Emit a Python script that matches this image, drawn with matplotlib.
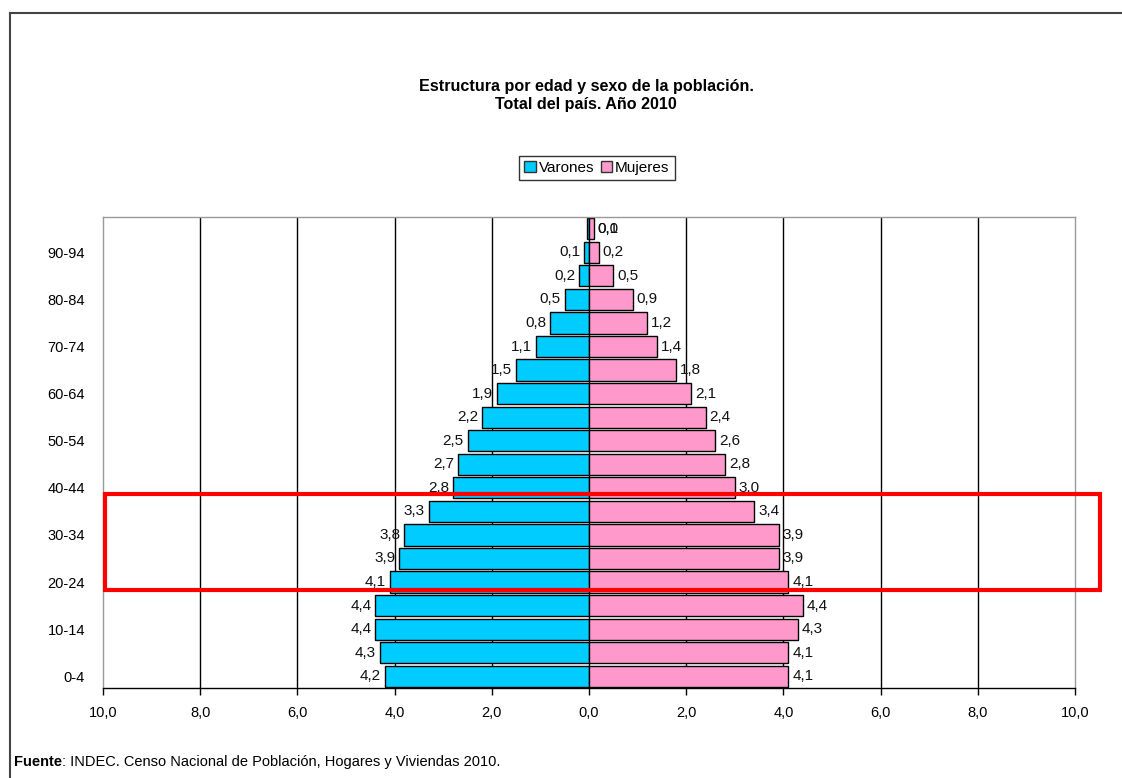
import numpy as np
import matplotlib
matplotlib.use("Agg")
import matplotlib.pyplot as plt
from matplotlib.patches import Rectangle, Patch
from matplotlib.lines import Line2D
from matplotlib.transforms import offset_copy

plt.rcParams['font.family'] = ['Liberation Sans', 'DejaVu Sans']

# age groups, youngest first
grupos = ["0-4", "5-9", "10-14", "15-19", "20-24", "25-29", "30-34", "35-39",
          "40-44", "45-49", "50-54", "55-59", "60-64", "65-69", "70-74",
          "75-79", "80-84", "85-89", "90-94", "95 y más"]
# percentage of total population
varones = [4.2, 4.3, 4.4, 4.4, 4.1, 3.9, 3.8, 3.3, 2.8, 2.7, 2.5, 2.2, 1.9,
           1.5, 1.1, 0.8, 0.5, 0.2, 0.1, 0.0]
mujeres = [4.1, 4.1, 4.3, 4.4, 4.1, 3.9, 3.9, 3.4, 3.0, 2.8, 2.6, 2.4, 2.1,
           1.8, 1.4, 1.2, 0.9, 0.5, 0.2, 0.1]
xticks = [-10, -8, -6, -4, -2, 0, 2, 4, 6, 8, 10]

azul = "#00CCFF"
rosa = "#FF99CC"

W, H = 1122, 778
fig = plt.figure(figsize=(W / 100, H / 100), dpi=100)
ax = fig.add_axes([103 / W, 1 - 688 / H, (1075 - 103) / W, (688 - 217) / H])

y = np.arange(len(grupos))
v = np.array(varones)
m = np.array(mujeres)
# tiny values still get a sliver so the top row is visible
v_draw = np.where(v == 0, 0.04, v)

for gx in xticks[1:-1]:
    ax.axvline(gx, color="black", lw=1, zorder=0)

ax.barh(y, -v_draw, height=0.9, color=azul, edgecolor="black", lw=1, zorder=2)
ax.barh(y, m, height=0.9, color=rosa, edgecolor="black", lw=1, zorder=2)

fmt = lambda val: f"{val:.1f}".replace(".", ",")
for yi, a, b in zip(y, v, m):
    if a > 0:
        ax.text(-a - 0.08, yi, fmt(a), ha="right", va="center", fontsize=11,
                color="#111111", zorder=3)
    else:
        ax.text(b + 0.08, yi, fmt(a), ha="left", va="center", fontsize=11,
                color="#111111", zorder=3)
    ax.text(b + 0.08, yi, fmt(b), ha="left", va="center", fontsize=11,
            color="#111111", zorder=3)

ax.set_xlim(-10, 10)
ax.set_ylim(-0.5, len(grupos) - 0.5)
ax.set_xticks(xticks)
ax.set_xticklabels([fmt(abs(t)) for t in xticks], fontsize=10.5)
ax.set_yticks(y[::2])
ax.set_yticklabels(grupos[::2], fontsize=10.5)
ax.tick_params(axis="x", length=5, width=1, pad=8, direction="out")
ax.tick_params(axis="y", length=0, pad=13)
for s in ["top", "right", "left"]:
    ax.spines[s].set_color("#999999")
    ax.spines[s].set_linewidth(1)
ax.spines["bottom"].set_color("black")
ax.spines["bottom"].set_linewidth(1)

fig.text(586 / W, 1 - 86 / H, "Estructura por edad y sexo de la población.",
         ha="center", va="center", fontsize=11.6, fontweight="bold")
fig.text(586 / W, 1 - 105 / H, "Total del país. Año 2010",
         ha="center", va="center", fontsize=11.6, fontweight="bold")

handles = [Patch(facecolor=azul, edgecolor="#333333", label="Varones"),
           Patch(facecolor=rosa, edgecolor="#333333", label="Mujeres")]
leg = fig.legend(handles=handles, loc="center", bbox_to_anchor=(597 / W, 1 - 168 / H),
                 ncol=2, fontsize=11, frameon=True, fancybox=False,
                 handlelength=0.75, handleheight=0.75, handletextpad=0.2,
                 columnspacing=0.4, borderpad=0.35, borderaxespad=0)
leg.get_frame().set_edgecolor("black")
leg.get_frame().set_linewidth(1)

# source note: bold "Fuente" followed by the rest in regular weight
t1 = fig.text(14 / W, 1 - 762 / H, "Fuente", ha="left", va="center",
              fontsize=10.5, fontweight="bold")
fig.canvas.draw()
w1 = t1.get_window_extent().width
fig.text(14 / W + w1 / W, 1 - 762 / H,
         ": INDEC. Censo Nacional de Población, Hogares y Viviendas 2010.",
         ha="left", va="center", fontsize=10.5)

# highlight of the 20-39 age band
fig.patches.append(Rectangle((105 / W, 1 - 590 / H), (1100 - 105) / W, 96 / H,
                             transform=fig.transFigure, fill=False,
                             edgecolor="red", lw=3, zorder=5))

# outer chart frame
fig.add_artist(Line2D([10 / W, 1], [1 - 13 / H, 1 - 13 / H], color="#444444", lw=1.5))
fig.add_artist(Line2D([10 / W, 10 / W], [0, 1 - 13 / H], color="#444444", lw=1.5))

fig.savefig("out.png", dpi=100)
